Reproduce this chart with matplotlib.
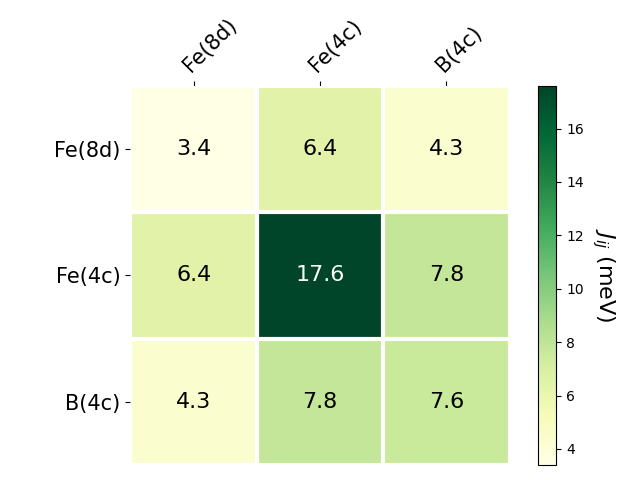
import matplotlib
matplotlib.use("Agg")
import matplotlib.pyplot as plt
import numpy as np

labels = ["Fe(8d)", "Fe(4c)", "B(4c)"]
row_8d = [3.4, 6.4, 4.3]
row_4c = [6.4, 17.6, 7.8]
row_b = [4.3, 7.8, 7.6]


def main():
    data = np.array([row_8d, row_4c, row_b])

    fig, ax = plt.subplots(figsize=(6.4, 4.8), dpi=100)
    im = ax.imshow(data, cmap="YlGn")
    cbar = fig.colorbar(im, ax=ax)
    cbar.ax.set_ylabel("$J_{ij}$ (meV)", rotation=-90, va="bottom", fontsize=16)

    ax.set_xticks(np.arange(len(labels)), labels=labels, fontsize=15)
    ax.set_yticks(np.arange(len(labels)), labels=labels, fontsize=15)
    ax.tick_params(top=True, bottom=False, labeltop=True, labelbottom=False)
    plt.setp(ax.get_xticklabels(), rotation=45, ha="left", rotation_mode="anchor")

    for s in ax.spines.values():
        s.set_visible(False)
    ax.set_xticks(np.arange(data.shape[1] + 1) - .5, minor=True)
    ax.set_yticks(np.arange(data.shape[0] + 1) - .5, minor=True)
    ax.grid(which="minor", color="w", linestyle="-", linewidth=3)
    ax.tick_params(which="minor", bottom=False, left=False, top=False)

    thr = im.norm(data.max()) / 2.
    for i in range(data.shape[0]):
        for j in range(data.shape[1]):
            c = "white" if im.norm(data[i, j]) > thr else "black"
            ax.text(j, i, "{:.1f}".format(data[i, j]), ha="center", va="center",
                    color=c, fontsize=16)

    fig.tight_layout()
    plt.savefig("out.png")


if __name__ == "__main__":
    main()
